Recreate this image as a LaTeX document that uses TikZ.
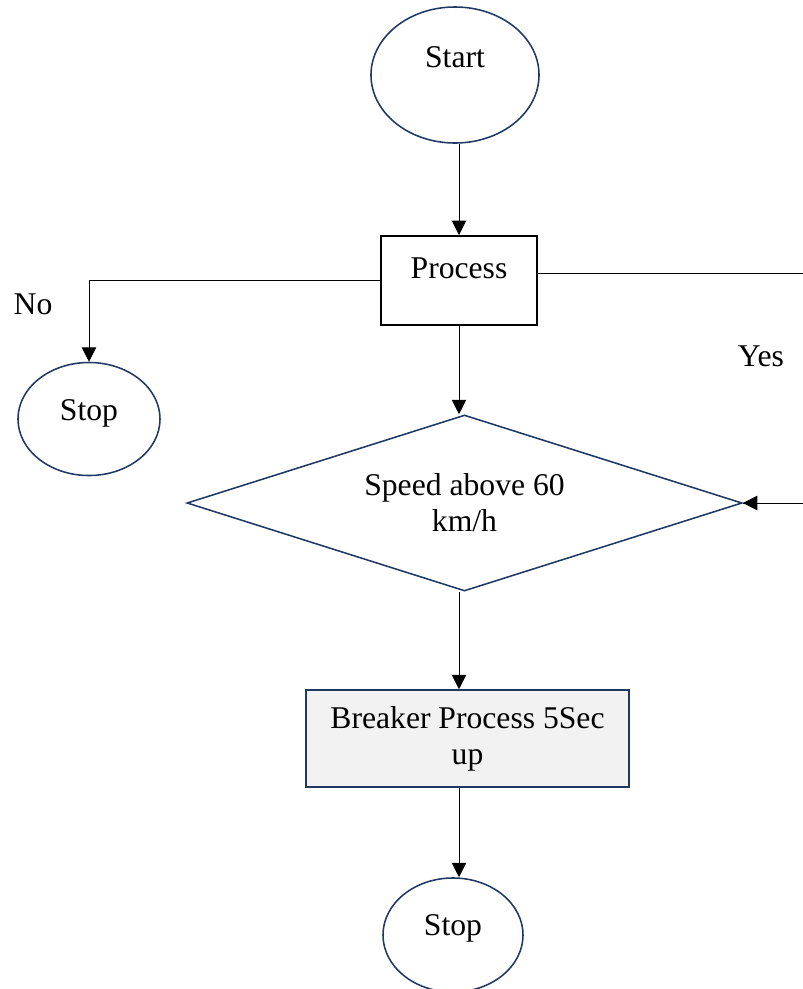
\documentclass[tikz,border=0pt]{standalone}
\usepackage{fontspec}
\setmainfont{Liberation Serif}
\usetikzlibrary{shapes.geometric,arrows.meta}
\definecolor{navy}{HTML}{1F3864}
\definecolor{boxgray}{HTML}{F2F2F2}
\tikzstyle{txt} = [font=\fontsize{22.5}{25.6}\selectfont, inner sep=0pt]
\tikzstyle{term} = [txt, draw=navy, line width=1.1pt, ellipse]
\tikzstyle{procbox} = [txt, draw=black, line width=1.4pt, rectangle,
    minimum width=3.9cm, minimum height=2.225cm, text depth=0.6cm]
\tikzstyle{decision} = [txt, draw=navy, line width=1.1pt, diamond, shape aspect=3.15,
    minimum width=13.875cm, minimum height=4.4cm, align=center]
\tikzstyle{arr} = [line width=0.7pt, -{Triangle[length=0.36cm,width=0.36cm]}]
\tikzstyle{link} = [line width=0.7pt]

\begin{document}
\begin{tikzpicture}[x=0.025cm, y=-0.025cm]
    \clip (0,0) rectangle (803,989);
    \node[term, minimum width=4.2cm, minimum height=3.4cm, text depth=0.9cm] (start) at (455,75) {Start};
    \node[procbox] (proc) at (459,280.5) {Process};
    \node[term, minimum width=3.55cm, minimum height=2.825cm, text depth=0.45cm] (stopa) at (89,419) {Stop};
    \node[decision] (speed) at (464.5,503) {Speed above 60\\km/h};
    \node[txt, draw=navy, fill=boxgray, line width=1.1pt, minimum width=8.075cm,
        minimum height=2.425cm, align=center] (brk) at (467.5,738.5) {Breaker Process 5Sec\\up};
    \node[term, minimum width=3.5cm, minimum height=2.85cm, text depth=0.5cm] (stopb) at (453,935) {Stop};
    \node[txt] (no) at (33,304) {No};
    \node[txt] (yes) at (761,356) {Yes};
    \coordinate (loop) at (840,273);

    % main line
    \draw[arr] (start.south -| proc.north) -- (proc.north);
    \draw[arr] (proc.south) -- (proc.south |- speed.north);
    \draw[arr] (proc.south |- speed.south) -- (proc.south |- brk.north);
    \draw[arr] (proc.south |- brk.south) -- (proc.south |- stopb.north);
    % no branch
    \draw[arr] (proc.west) -| (stopa.north);
    % yes branch
    \draw[link] (proc.east |- loop) -- (loop) |- (speed.east);
    \draw[arr] (speed.east -| loop) -- (speed.east);
\end{tikzpicture}
\end{document}
